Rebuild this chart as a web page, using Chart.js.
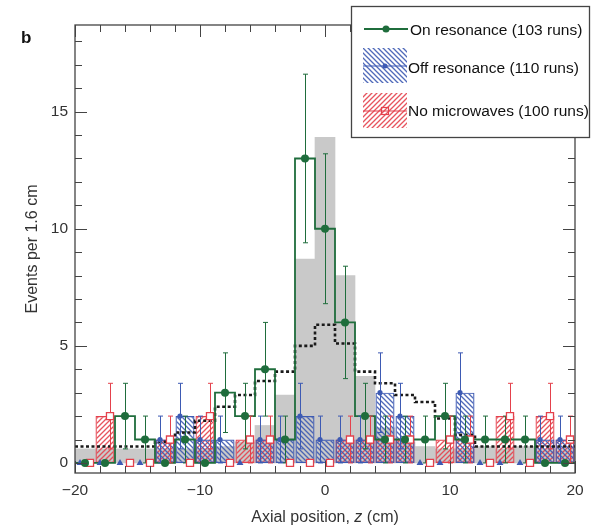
<!DOCTYPE html>
<html>
<head>
<meta charset="utf-8">
<script src="https://cdn.jsdelivr.net/npm/chart.js@4.4.0/dist/chart.umd.min.js"></script>
<style>
html, body { margin: 0; padding: 0; background: #fff; }
#wrap { width: 593px; height: 531px; position: relative; }
</style>
</head>
<body>
<div id="wrap"><canvas id="chart" width="593" height="531"></canvas></div>
<script>
// bin centres, cm (1.6 cm bins)
var binCenters = [-19.2, -17.6, -16, -14.4, -12.8, -11.2, -9.6, -8, -6.4, -4.8, -3.2, -1.6, 0,
                  1.6, 3.2, 4.8, 6.4, 8, 9.6, 11.2, 12.8, 14.4, 16, 17.6, 19.2];
var binWidth = 1.6;

// events per bin
var onResonance  = [0, 0, 2, 1, 0, 1, 0, 3, 2, 4, 1, 13, 10, 6, 2, 1, 1, 1, 2, 1, 1, 1, 1, 0, 0];
var offResonance = [0, 0, 0, 0, 1, 2, 1, 1, 0, 1, 1, 2, 1, 1, 1, 3, 2, 0, 0, 3, 0, 0, 0, 1, 1];
var noMicrowaves = [0, 2, 0, 0, 1, 0, 2, 0, 1, 1, 0, 0, 0, 1, 1, 1, 1, 0, 1, 1, 0, 2, 0, 2, 1];

// error bar half lengths
var onResonanceErr  = [0, 0, 1.4, 1, 0, 1, 0, 1.7, 1.4, 2, 1, 3.6, 3.2, 2.4, 1.4, 1, 1, 1, 1.4, 1, 1, 1, 1, 0, 0];
var offResonanceErr = [0, 0, 0, 0, 1, 1.4, 1, 1, 0, 1, 1, 1.4, 1, 1, 1, 1.7, 1.4, 0, 0, 1.7, 0, 0, 0, 1, 1];
var noMicrowavesErr = [0, 1.4, 0, 0, 1, 0, 1.4, 0, 1, 1, 0, 0, 0, 1, 1, 1, 1, 0, 1, 1, 0, 1.4, 0, 1.4, 1];

// expected distributions (grey fill and dotted line)
var expectedFill   = [0.6, 0.6, 0.6, 0.6, 0.6, 0.6, 0.6, 0.7, 0.9, 1.6, 2.9, 8.7, 13.9, 8.0, 3.7, 1.5, 0.9, 0.7, 0.6, 0.6, 0.7, 0.6, 0.7, 0.6, 0.6];
var expectedDotted = [0.7, 0.7, 0.7, 0.7, 0.9, 1.3, 1.8, 2.4, 2.9, 3.5, 3.9, 5.0, 5.9, 5.1, 3.9, 3.4, 2.9, 2.6, 1.9, 1.2, 0.7, 0.7, 0.7, 0.7, 0.7];

var xTickLabels = [-20, -10, 0, 10, 20];
var yTickLabels = [0, 5, 10, 15];
var legendLabels = ['On resonance (103 runs)', 'Off resonance (110 runs)', 'No microwaves (100 runs)'];

var GREEN = '#1f6d3c';
var BLUE = '#3d5ab3';
var RED = '#e4414c';
var GREY = '#c9c9c9';
var FRAME = '#444';
var FONT = '"Liberation Sans", Arial, Helvetica, sans-serif';
var markerShift = 0.4; // blue markers sit left of centre, red right

var canvas = document.getElementById('chart');
var mainCtx = canvas.getContext('2d');

function hatch(color, rising) {
    var s = 5;
    var c = document.createElement('canvas');
    c.width = s; c.height = s;
    var g = c.getContext('2d');
    g.strokeStyle = color;
    g.lineWidth = 1.3;
    g.beginPath();
    if (rising) {
        g.moveTo(0, s); g.lineTo(s, 0);
        g.moveTo(-1, 1); g.lineTo(1, -1);
        g.moveTo(s - 1, s + 1); g.lineTo(s + 1, s - 1);
    } else {
        g.moveTo(0, 0); g.lineTo(s, s);
        g.moveTo(-1, s - 1); g.lineTo(1, s + 1);
        g.moveTo(s - 1, -1); g.lineTo(s + 1, 1);
    }
    g.stroke();
    return mainCtx.createPattern(c, 'repeat');
}

var blueHatch = hatch('rgba(61,90,179,0.9)', false);
var redHatch = hatch('rgba(228,65,76,0.9)', true);

function barData(vals, shift) {
    return binCenters.map(function(z, i) { return { x: z + (shift || 0), y: vals[i] }; });
}

function stepData(vals) {
    var pts = binCenters.map(function(z, i) { return { x: z - binWidth / 2, y: vals[i] }; });
    pts.push({ x: binCenters[binCenters.length - 1] + binWidth / 2, y: vals[vals.length - 1] });
    return pts;
}

function drawErrors(ctx, xs, ys, vals, errs, shift, color) {
    ctx.save();
    ctx.strokeStyle = color;
    ctx.lineWidth = 1;
    vals.forEach(function(v, i) {
        if (!errs[i]) return;
        var px = Math.round(xs.getPixelForValue(binCenters[i] + shift)) + 0.5;
        var top = ys.getPixelForValue(v + errs[i]);
        var bot = ys.getPixelForValue(v - errs[i]);
        ctx.beginPath();
        ctx.moveTo(px, top); ctx.lineTo(px, bot);
        ctx.moveTo(px - 2.5, top); ctx.lineTo(px + 2.5, top);
        ctx.moveTo(px - 2.5, bot); ctx.lineTo(px + 2.5, bot);
        ctx.stroke();
    });
    ctx.restore();
}

var errorBarPlugin = {
    id: 'errorBars',
    afterDatasetDraw: function(chart, args) {
        if (chart.data.datasets[args.index].id !== 'onStep') return;
        var ctx = chart.ctx, xs = chart.scales.x, ys = chart.scales.y;
        drawErrors(ctx, xs, ys, noMicrowaves, noMicrowavesErr, markerShift, RED);
        drawErrors(ctx, xs, ys, offResonance, offResonanceErr, -markerShift, BLUE);
        drawErrors(ctx, xs, ys, onResonance, onResonanceErr, 0, GREEN);
    }
};

var framePlugin = {
    id: 'frame',
    afterDatasetsDraw: function(chart) {
        var ctx = chart.ctx, a = chart.chartArea;
        var xs = chart.scales.x, ys = chart.scales.y;
        ctx.save();
        ctx.strokeStyle = FRAME;
        ctx.lineWidth = 1;
        ctx.beginPath();
        // ticks on all four sides, pointing in
        for (var v = -20; v <= 20; v += 2) {
            var px = Math.round(xs.getPixelForValue(v)) + 0.5;
            var len = (v % 10 === 0) ? 12 : 7;
            ctx.moveTo(px, a.bottom); ctx.lineTo(px, a.bottom - len);
            ctx.moveTo(px, a.top); ctx.lineTo(px, a.top + len);
        }
        for (var w = 0; w <= 18; w += 1) {
            var py = Math.round(ys.getPixelForValue(w)) + 0.5;
            var l2 = (w % 5 === 0) ? 12 : 7;
            ctx.moveTo(a.left, py); ctx.lineTo(a.left + l2, py);
            ctx.moveTo(a.right, py); ctx.lineTo(a.right - l2, py);
        }
        ctx.stroke();
        ctx.lineWidth = 1.3;
        ctx.strokeRect(a.left, a.top, a.right - a.left, a.bottom - a.top);
        ctx.restore();
    },
    afterDraw: function(chart) {
        var ctx = chart.ctx, a = chart.chartArea;
        ctx.save();

        // panel letter
        ctx.fillStyle = '#111';
        ctx.font = 'bold 17px ' + FONT;
        ctx.textBaseline = 'middle';
        ctx.fillText('b', 21, 38);

        // x title with italic z
        var parts = [['Axial position, ', 'normal'], ['z', 'italic'], [' (cm)', 'normal']];
        var total = 0;
        parts.forEach(function(p) { ctx.font = p[1] + ' 16px ' + FONT; total += ctx.measureText(p[0]).width; });
        var x0 = (a.left + a.right) / 2 - total / 2;
        ctx.fillStyle = '#333';
        parts.forEach(function(p) {
            ctx.font = p[1] + ' 16px ' + FONT;
            ctx.fillText(p[0], x0, 518);
            x0 += ctx.measureText(p[0]).width;
        });

        // legend box
        var bx = 351, by = 6, bw = 238, bh = 131;
        ctx.fillStyle = '#fff';
        ctx.fillRect(bx, by, bw, bh);
        ctx.strokeStyle = FRAME;
        ctx.lineWidth = 1.3;
        ctx.strokeRect(bx + 0.5, by + 0.5, bw, bh);

        // on resonance
        ctx.strokeStyle = GREEN; ctx.lineWidth = 1.8;
        ctx.beginPath(); ctx.moveTo(364, 29); ctx.lineTo(408, 29); ctx.stroke();
        ctx.fillStyle = GREEN;
        ctx.beginPath(); ctx.arc(386, 29, 3.5, 0, Math.PI * 2); ctx.fill();

        // off resonance
        ctx.fillStyle = blueHatch;
        ctx.fillRect(363, 48, 44, 35);
        ctx.strokeStyle = BLUE; ctx.lineWidth = 1.2;
        ctx.beginPath(); ctx.moveTo(363, 66); ctx.lineTo(407, 66); ctx.stroke();
        ctx.fillStyle = BLUE;
        ctx.beginPath(); ctx.arc(385, 66, 2.5, 0, Math.PI * 2); ctx.fill();

        // no microwaves
        ctx.fillStyle = redHatch;
        ctx.fillRect(363, 93, 44, 35);
        ctx.strokeStyle = RED; ctx.lineWidth = 1.2;
        ctx.beginPath(); ctx.moveTo(363, 111); ctx.lineTo(407, 111); ctx.stroke();
        ctx.strokeRect(381.5, 107.5, 7, 7);

        ctx.fillStyle = '#111';
        ctx.font = '15.5px ' + FONT;
        ctx.textBaseline = 'middle';
        ctx.fillText(legendLabels[0], 410, 31);
        ctx.fillText(legendLabels[1], 408, 69);
        ctx.fillText(legendLabels[2], 408, 112);
        ctx.restore();
    }
};

new Chart(canvas, {
    type: 'bar',
    data: {
        datasets: [
            {
                id: 'greenDots',
                type: 'line',
                data: barData(onResonance),
                showLine: false,
                pointStyle: 'circle',
                pointRadius: 4,
                pointBackgroundColor: GREEN,
                pointBorderWidth: 0,
                order: 1
            },
            {
                id: 'blueDots',
                type: 'line',
                data: barData(offResonance, -markerShift),
                showLine: false,
                pointStyle: function(c) { return c.raw && c.raw.y === 0 ? 'triangle' : 'circle'; },
                pointRadius: function(c) { return c.raw && c.raw.y === 0 ? 4 : 2.6; },
                pointBackgroundColor: BLUE,
                pointBorderColor: BLUE,
                pointBorderWidth: 0,
                order: 2
            },
            {
                id: 'redDots',
                type: 'line',
                data: barData(noMicrowaves, markerShift),
                showLine: false,
                pointStyle: 'rect',
                pointRadius: 5,
                pointBackgroundColor: '#fff',
                pointBorderColor: RED,
                pointBorderWidth: 1.3,
                order: 3
            },
            {
                id: 'onStep',
                label: legendLabels[0],
                type: 'line',
                data: stepData(onResonance),
                stepped: true,
                borderColor: GREEN,
                borderWidth: 1.8,
                pointRadius: 0,
                fill: false,
                order: 6
            },
            {
                id: 'dotted',
                type: 'line',
                data: stepData(expectedDotted),
                stepped: true,
                borderColor: '#1a1a1a',
                borderWidth: 2.6,
                borderDash: [3, 2.5],
                borderCapStyle: 'butt',
                pointRadius: 0,
                fill: false,
                order: 7
            },
            {
                id: 'offBars',
                label: legendLabels[1],
                data: barData(offResonance),
                backgroundColor: blueHatch,
                borderColor: BLUE,
                borderWidth: 1.2,
                borderSkipped: false,
                grouped: false,
                barPercentage: 0.95,
                categoryPercentage: 1,
                order: 8
            },
            {
                id: 'noBars',
                label: legendLabels[2],
                data: barData(noMicrowaves),
                backgroundColor: redHatch,
                borderColor: RED,
                borderWidth: 1.2,
                borderSkipped: false,
                grouped: false,
                barPercentage: 0.95,
                categoryPercentage: 1,
                order: 9
            },
            {
                id: 'greyBars',
                data: barData(expectedFill),
                backgroundColor: GREY,
                borderWidth: 0,
                grouped: false,
                barPercentage: 1,
                categoryPercentage: 1,
                order: 10
            }
        ]
    },
    options: {
        responsive: false,
        animation: false,
        devicePixelRatio: 1,
        layout: { padding: { top: 25, right: 18, left: 0, bottom: 0 } },
        plugins: {
            legend: { display: false },
            tooltip: { enabled: false }
        },
        scales: {
            x: {
                type: 'linear',
                min: -20,
                max: 20,
                offset: false,
                grid: { display: false, drawTicks: false },
                border: { display: false },
                ticks: {
                    padding: 8,
                    color: '#333',
                    font: { family: FONT, size: 15.5 },
                    callback: function(v) { return String(v).replace('-', '\u2212'); }
                },
                afterBuildTicks: function(s) { s.ticks = xTickLabels.map(function(v) { return { value: v }; }); },
                afterFit: function(s) { s.height = 58; }
            },
            y: {
                type: 'linear',
                min: -0.43,
                max: 18.7,
                grid: { display: false, drawTicks: false },
                border: { display: false },
                ticks: {
                    padding: 7,
                    color: '#333',
                    font: { family: FONT, size: 15.5 }
                },
                afterBuildTicks: function(s) { s.ticks = yTickLabels.map(function(v) { return { value: v }; }); },
                afterFit: function(s) { s.width = 75; },
                title: {
                    display: true,
                    text: 'Events per 1.6 cm',
                    color: '#333',
                    font: { family: FONT, size: 16 },
                    padding: { top: 23, bottom: 0 }
                }
            }
        }
    },
    plugins: [errorBarPlugin, framePlugin]
});
</script>
</body>
</html>
